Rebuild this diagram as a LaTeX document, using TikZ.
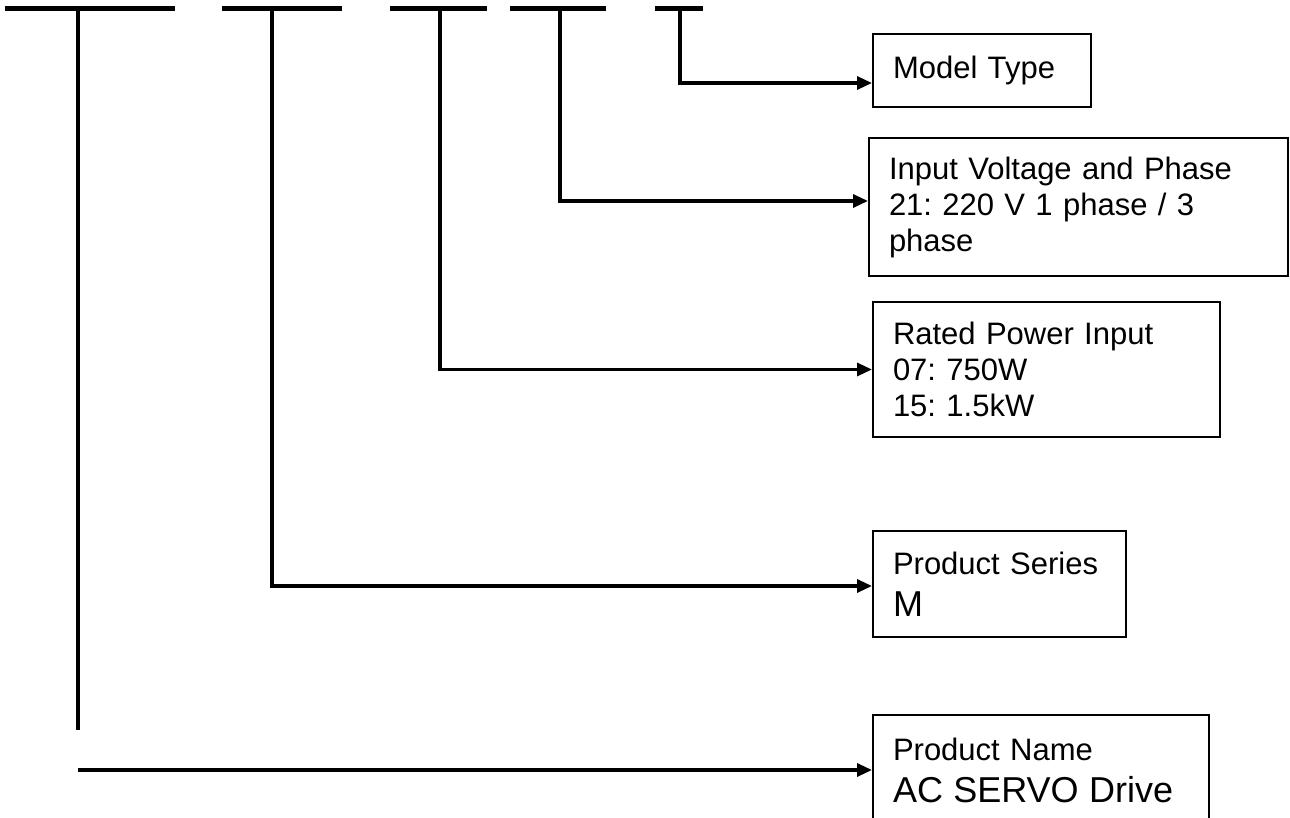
\documentclass[tikz,border=0pt]{standalone}
\usepackage{fontspec}
\setmainfont{Liberation Sans}
\usetikzlibrary{arrows.meta}
\frenchspacing

\tikzstyle{every node}=[font=\fontsize{31}{36}\selectfont]
\tikzstyle{field}=[draw, line width=2pt, anchor=north west, align=left, inner xsep=20pt, inner ysep=0pt]
\tikzstyle{bar}=[line width=5pt]
\tikzstyle{lead}=[line width=3.2pt]
\tikzstyle{pointer}=[line width=3.2pt, -{Triangle[length=15pt,width=13pt]}]
\newcommand{\bigtext}{\fontsize{36}{41}\selectfont}

\begin{document}
\begin{tikzpicture}[x=1pt, y=-1pt]
    \useasboundingbox (0,0) rectangle (1290,818);

    % 代码段的横线
    \foreach \a/\b in {5/175, 222/342, 390/487, 510/606, 655/703}
        \draw[bar] (\a,9) -- (\b,9);
    \coordinate (s1) at (78,9);
    \coordinate (s2) at (272,9);
    \coordinate (s3) at (440,9);
    \coordinate (s4) at (560,9);
    \coordinate (s5) at (680,9);
    \coordinate (s1end) at (78,730);

    % 说明框
    \node[field, text width=178pt, minimum height=73pt] (type) at (872,33) {Model Type};
    \node[field, text width=379pt, minimum height=138pt] (volt) at (868,137)
        {Input Voltage and Phase\\21: 220 V 1 phase / 3\\phase};
    \node[field, text width=307pt, minimum height=135pt] (power) at (872,301)
        {Rated Power Input\\07: 750W\\15: 1.5kW};
    \node[field, text width=213pt, minimum height=106pt] (series) at (872,530)
        {Product Series\\[6pt]\bigtext M};
    \node[field, text width=296pt, minimum height=110pt] (name) at (872,714)
        {Product Name\\[6pt]\bigtext AC SERVO Drive};

    % 引线
    \draw[pointer] (s5) |- ([yshift=-12.5pt]type.west);
    \draw[pointer] (s4) |- ([yshift=6pt]volt.west);
    \draw[pointer] (s3) |- (power.west);
    \draw[pointer] (s2) |- ([yshift=-2pt]series.west);
    \draw[lead] (s1) -- (s1end);
    \draw[pointer] (s1 |- name.west) -- (name.west);
\end{tikzpicture}
\end{document}
